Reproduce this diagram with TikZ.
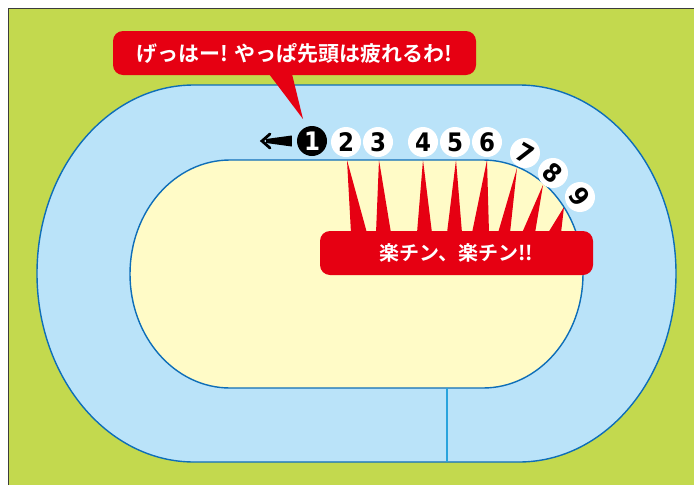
\documentclass[tikz,border=0pt]{standalone}
\usepackage{fontspec}
\newfontfamily\jpb{Noto Sans CJK JP}[UprightFont=* Bold]
\newfontfamily\digf{DejaVu Sans Condensed}[UprightFont=* Bold]
\definecolor{bggreen}{HTML}{C3D94E}
\definecolor{trackblue}{HTML}{BAE3F9}
\definecolor{fieldyel}{HTML}{FFFBC7}
\definecolor{calred}{HTML}{E60012}
\definecolor{lineblue}{HTML}{0E6EB8}
\definecolor{vblue}{HTML}{29A3DD}
\definecolor{frameg}{HTML}{3C3C3C}
\begin{document}
\begin{tikzpicture}[x=1pt,y=-1pt,
  trackline/.style={draw=lineblue,line width=1.4pt},
  num/.style={circle,fill=white,minimum size=30pt,inner sep=0pt,text=black,
    font=\digf\fontsize{25.5}{25.5}\selectfont},
  numblack/.style={num,fill=black,text=white},
  callout/.style={fill=calred,rounded corners=10pt,text=white,inner sep=0pt,
    font=\jpb\fontsize{21}{21}\selectfont},
  spike/.style={fill=calred}]
\useasboundingbox (0,0) rectangle (694,485);
\fill[white] (0,0) rectangle (694,485);
\fill[bggreen] (8,8) rectangle (694,485);
\draw[frameg,line width=1pt] (8,485) -- (8,8) -- (694,8);
% outer track
\path[fill=trackblue,trackline] (194,85) -- (519,85)
  arc[start angle=-90,end angle=90,x radius=157,y radius=188.5]
  -- (194,462)
  arc[start angle=90,end angle=270,x radius=157,y radius=188.5] -- cycle;
% inner field
\fill[fieldyel] (230,160) -- (483,160)
  arc[start angle=-90,end angle=90,x radius=100,y radius=114]
  -- (230,388)
  arc[start angle=90,end angle=270,x radius=100,y radius=114] -- cycle;
% spikes
\fill[spike] (347,160) -- (351,233) -- (367,233) -- cycle;
\fill[spike] (379,160) -- (376,233) -- (391,233) -- cycle;
\fill[spike] (423,160) -- (417,233) -- (432,233) -- cycle;
\fill[spike] (456,160) -- (447,233) -- (462,233) -- cycle;
\fill[spike] (487,160) -- (472,233) -- (489,233) -- cycle;
\fill[spike] (517,168) -- (498,233) -- (510,233) -- cycle;
\fill[spike] (543,185) -- (522,233) -- (535,233) -- cycle;
\fill[spike] (564,207) -- (548,233) -- (561,233) -- cycle;
\draw[trackline] (230,160) -- (483,160)
  arc[start angle=-90,end angle=90,x radius=100,y radius=114]
  -- (230,388)
  arc[start angle=90,end angle=270,x radius=100,y radius=114] -- cycle;
\draw[vblue,line width=1.2pt] (447,388) -- (447,462);
% callouts
\node[callout,minimum width=363pt,minimum height=44pt] (c1) at (294.5,53) {げっはー! やっぱ先頭は疲れるわ!};
\fill[calred] (266,70) -- (303,119) -- (291,70) -- cycle;
\node[callout,minimum width=273pt,minimum height=44pt,
  font=\jpb\fontsize{20}{20}\selectfont] (c2) at (456.5,253) {楽チン、楽チン!!};
% numbers
\node[numblack] (n1) at (312,141) {1};
\node[num] (n2) at (346,142) {2};
\node[num] (n3) at (378,142) {3};
\node[num] (n4) at (423,142) {4};
\node[num] (n5) at (455,142) {5};
\node[num] (n6) at (487,142) {6};
\node[num,rotate=-30] (n7) at (525,153) {7};
\node[num,rotate=-42] (n8) at (553,173) {8};
\node[num,rotate=-55] (n9) at (580,197) {9};
% arrow
\coordinate (ah) at (262,141);
\fill[black] (n1.west) ++(-5,-5.5) -- ++(0,11) -- (266,143) -- (266,139) -- cycle;
\draw[black,line width=2.8pt,line cap=round] (270,134) -- (ah) -- (270,148);
\end{tikzpicture}
\end{document}
